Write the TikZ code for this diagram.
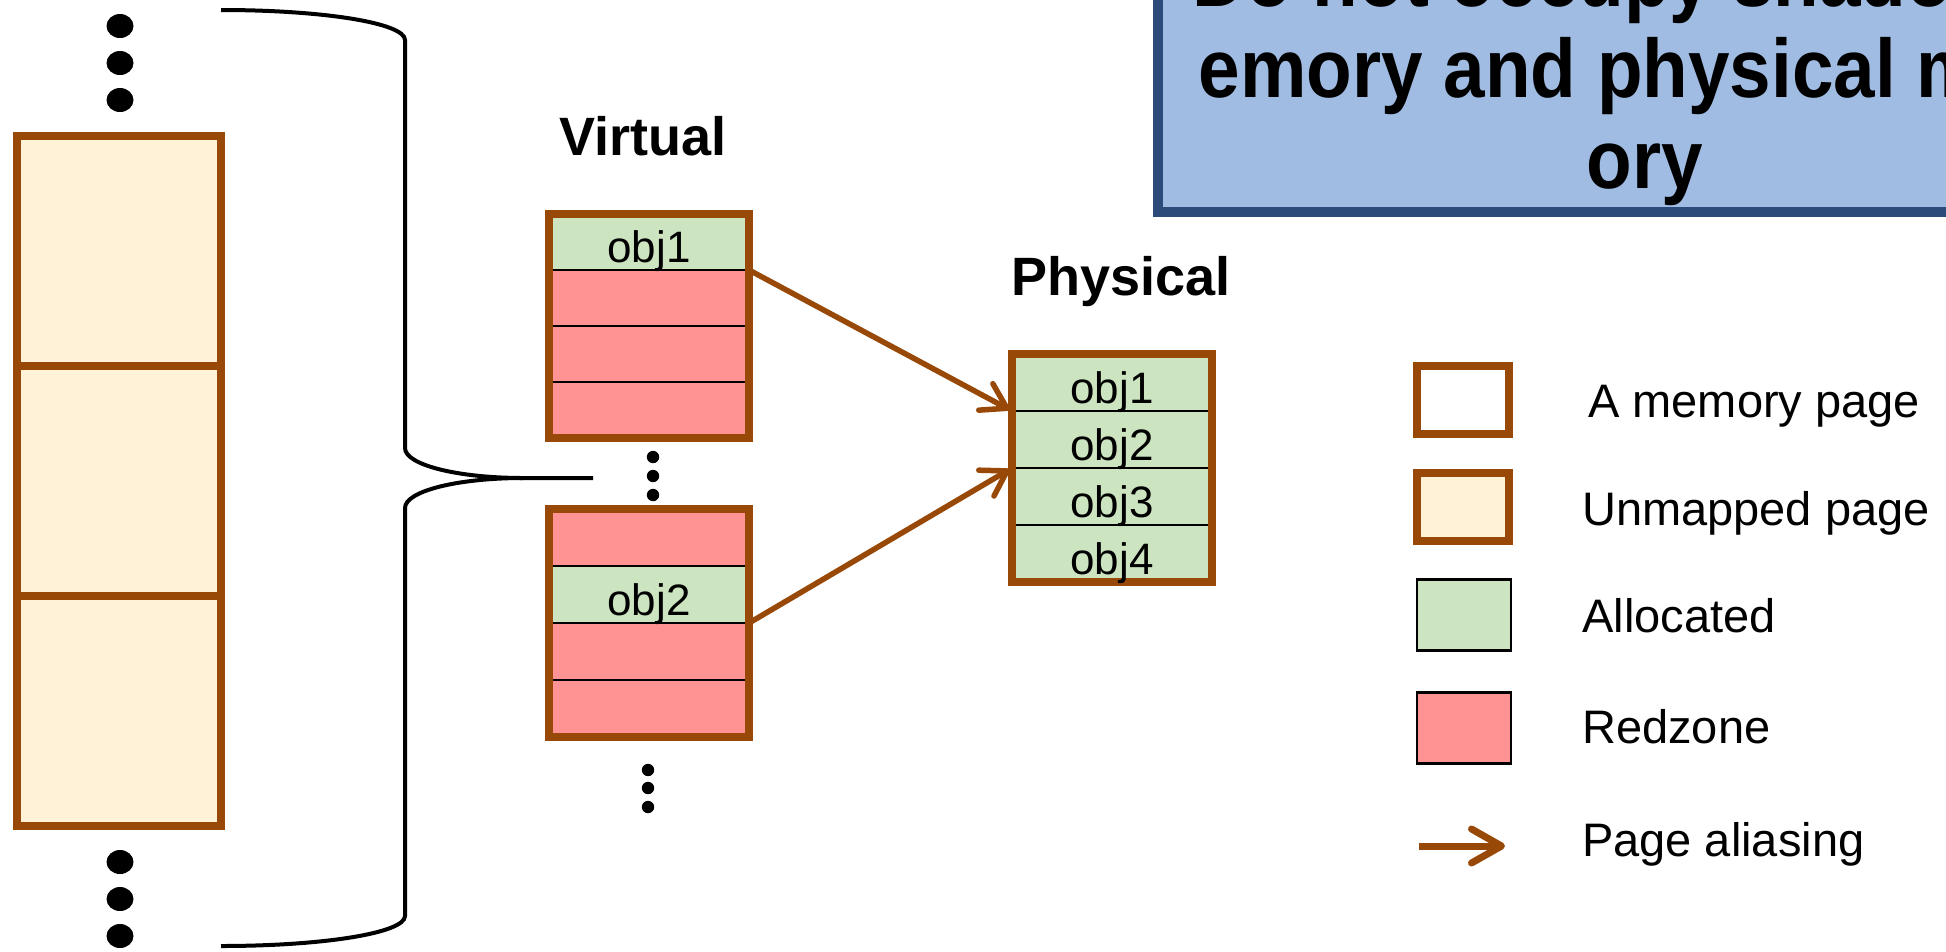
\documentclass[tikz,border=0pt]{standalone}
\usepackage{fontspec}
\setmainfont{Liberation Sans}
\newfontfamily\notefont[FakeStretch=0.9]{Liberation Sans}
\usetikzlibrary{arrows.meta}

\definecolor{pagebrown}{HTML}{984807}
\definecolor{unmapped}{HTML}{FFF2D6}
\definecolor{alloc}{HTML}{CDE4C1}
\definecolor{redzone}{HTML}{FF9393}
\definecolor{notefill}{HTML}{A0BCE3}
\definecolor{noteedge}{HTML}{2D4B7A}

\tikzset{
  pageedge/.style={draw=pagebrown, line width=8pt},
  cellbox/.style={draw=black, line width=2pt, minimum width=200pt, inner sep=0pt, outer sep=0pt},
  alloccell/.style={cellbox, fill=alloc},
  redcell/.style={cellbox, fill=redzone},
  unmappedcell/.style={draw=pagebrown, line width=8pt, fill=unmapped,
    minimum width=204pt, minimum height=230pt, inner sep=0pt, outer sep=0pt},
  objlabel/.style={font=\fontsize{44}{50}\selectfont, anchor=base, inner sep=0pt},
  heading/.style={font=\bfseries\fontsize{54}{60}\selectfont, anchor=base, inner sep=0pt},
  legendtext/.style={font=\fontsize{47}{56}\selectfont, anchor=base west, inner sep=0pt},
  notebox/.style={draw=noteedge, fill=notefill, line width=10pt, inner sep=0pt},
  notetext/.style={font=\notefont\bfseries\fontsize{83}{91}\selectfont, anchor=base, inner sep=0pt},
  aliasarrow/.style={draw=pagebrown, line width=5.5pt,
    -{Straight Barb[length=24pt, width=30pt, round]}},
  legendarrow/.style={draw=pagebrown, line width=7pt,
    -{Straight Barb[length=30pt, width=34pt, round]}},
  bracestroke/.style={draw=black, line width=4pt},
}

\begin{document}
\begin{tikzpicture}[x=1pt, y=-1pt]
\useasboundingbox (0,0) rectangle (1946,951);
\clip (0,0) rectangle (1946,951);

% callout box in the upper right
\node[notebox, minimum width=982pt, minimum height=252pt] (note) at (1649,86) {};
\node[notetext] (noteA) at (1645,6) {Do not occupy shadow m};
\node[notetext] (noteB) at (1645,97) {emory and physical mem};
\node[notetext] (noteC) at (1645,188) {ory};

% long run of unmapped pages on the left
\node[unmappedcell] (u1) at (118.5,250.5) {};
\node[unmappedcell] (u2) at (118.5,480.5) {};
\node[unmappedcell] (u3) at (118.5,710.5) {};
\foreach \y in {26,63,100,862,899,936}
  \fill (120,\y) ellipse [x radius=13.5, y radius=12];

% brace grouping the left column
\coordinate (bracetip) at (593,478);
\draw[bracestroke] (221,10) .. controls (323,10) and (405,23) .. (405,40)
  -- (405,448) .. controls (405,465) and (458,478) .. (523,478) -- (bracetip);
\draw[bracestroke] (523,478) .. controls (458,478) and (405,491) .. (405,508)
  -- (405,916) .. controls (405,933) and (323,946) .. (221,946);

% virtual pages
\node[heading] (virt) at (643,155) {Virtual};
\node[alloccell, minimum height=56pt] (v1c1) at (649,242) {};
\node[redcell, minimum height=56pt] (v1c2) at (649,298) {};
\node[redcell, minimum height=56pt] (v1c3) at (649,354) {};
\node[redcell, minimum height=56pt] (v1c4) at (649,410) {};
\draw[pageedge] (v1c1.north west) rectangle (v1c4.south east);
\node[objlabel] (v1t) at ([yshift=8pt]v1c1.south) {obj1};

\foreach \y in {457,476,495} \fill (653,\y) circle [radius=6.2];

\node[redcell, minimum height=57pt] (v2c1) at (649,537.5) {};
\node[alloccell, minimum height=57pt] (v2c2) at (649,594.5) {};
\node[redcell, minimum height=57pt] (v2c3) at (649,651.5) {};
\node[redcell, minimum height=57pt] (v2c4) at (649,708.5) {};
\draw[pageedge] (v2c1.north west) rectangle (v2c4.south east);
\node[objlabel] (v2t) at ([yshift=8pt]v2c2.south) {obj2};

\foreach \y in {770,788,807} \fill (648,\y) circle [radius=6.2];

% physical page
\node[heading] (phys) at (1121,295) {Physical};
\node[alloccell, minimum height=57pt] (p1) at (1112,382.5) {};
\node[alloccell, minimum height=57pt] (p2) at (1112,439.5) {};
\node[alloccell, minimum height=57pt] (p3) at (1112,496.5) {};
\node[alloccell, minimum height=57pt] (p4) at (1112,553.5) {};
\draw[pageedge] (p1.north west) rectangle (p4.south east);
\node[objlabel] (p1t) at ([yshift=8pt]p1.south) {obj1};
\node[objlabel] (p2t) at ([yshift=8pt]p2.south) {obj2};
\node[objlabel] (p3t) at ([yshift=8pt]p3.south) {obj3};
\node[objlabel] (p4t) at ([yshift=8pt]p4.south) {obj4};

% aliasing of virtual pages onto the physical page
\draw[aliasarrow, shorten >=3pt] (v1c1.south east) -- (p1.south west);
\draw[aliasarrow, shorten >=3pt] (v2c2.south east) -- (p2.south west);

% legend
\node[draw=pagebrown, line width=8pt, fill=white, minimum width=92pt, minimum height=68pt,
      inner sep=0pt] (lg1) at (1462.5,399.5) {};
\node[draw=pagebrown, line width=8pt, fill=unmapped, minimum width=92pt, minimum height=68pt,
      inner sep=0pt] (lg2) at (1462.5,506.5) {};
\node[draw=black, line width=2.5pt, fill=alloc, minimum width=94pt, minimum height=71pt,
      inner sep=0pt] (lg3) at (1464,615) {};
\node[draw=black, line width=2.5pt, fill=redzone, minimum width=94pt, minimum height=71pt,
      inner sep=0pt] (lg4) at (1464,728) {};
\coordinate (la0) at (1419,846);
\coordinate (la1) at (1505,846);
\draw[legendarrow] (la0) -- (la1);

\node[legendtext] (lt1) at (1588,417) {A memory page};
\node[legendtext] (lt2) at (1582,525) {Unmapped page};
\node[legendtext] (lt3) at (1582,632) {Allocated};
\node[legendtext] (lt4) at (1582,743) {Redzone};
\node[legendtext] (lt5) at (1582,856) {Page aliasing};
\end{tikzpicture}
\end{document}
